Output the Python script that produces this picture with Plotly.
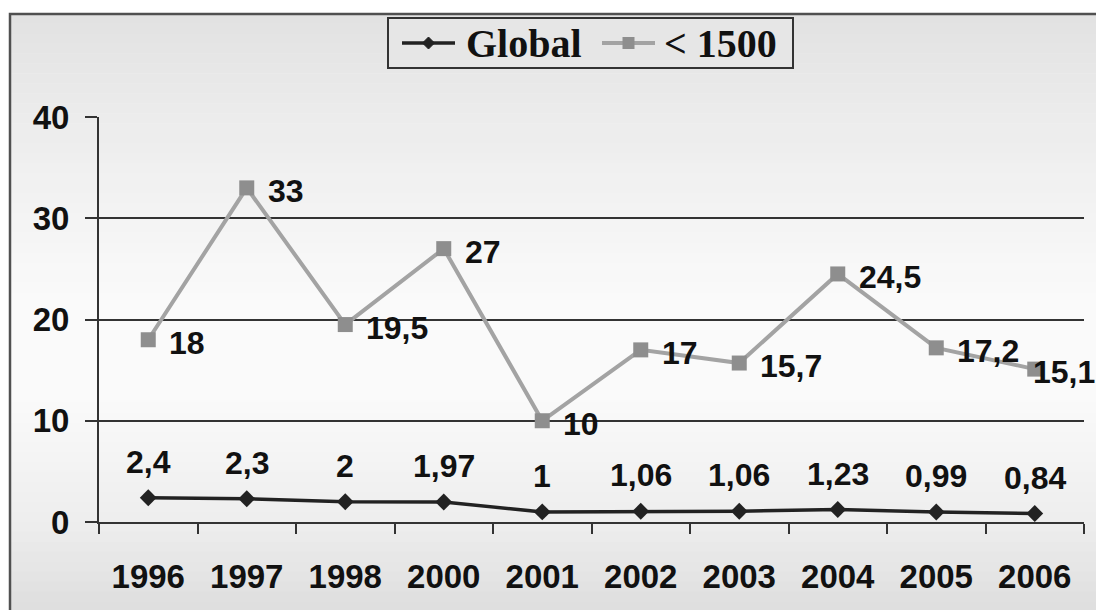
import plotly.graph_objects as go

# Data
years = ["1996", "1997", "1998", "2000", "2001", "2002", "2003", "2004", "2005", "2006"]
global_vals = [2.4, 2.3, 2.0, 1.97, 1.0, 1.06, 1.06, 1.23, 0.99, 0.84]
global_labels = ["2,4", "2,3", "2", "1,97", "1", "1,06", "1,06", "1,23", "0,99", "0,84"]
under1500_vals = [18, 33, 19.5, 27, 10, 17, 15.7, 24.5, 17.2, 15.1]
under1500_labels = ["18", "33", "19,5", "27", "10", "17", "15,7", "24,5", "17,2", "15,1"]
series_names = ["Global", "< 1500"]
y_ticks = [0, 10, 20, 30, 40]

W, H = 1096, 610
ML, MR, MT, MB = 99, 12, 117, 88
PW, PH = W - ML - MR, H - MT - MB

DARK = "#222222"
GRAY_LINE = "#a3a3a3"
GRAY_MARK = "#8e8e8e"


def px_to_paper(x, y):
    return (x - ML) / PW, (H - MB - y) / PH


fig = go.Figure()

fig.add_trace(go.Scatter(
    x=years, y=global_vals, name=series_names[0], mode="lines+markers",
    line=dict(color=DARK, width=3.5),
    marker=dict(symbol="diamond", size=13, color=DARK),
    cliponaxis=False, showlegend=False,
))
fig.add_trace(go.Scatter(
    x=years, y=under1500_vals, name=series_names[1], mode="lines+markers",
    line=dict(color=GRAY_LINE, width=4),
    marker=dict(symbol="square", size=15, color=GRAY_MARK),
    cliponaxis=False, showlegend=False,
))

label_font = dict(family="Liberation Sans, Arial, sans-serif", size=32, color="#111111", weight="bold")

# Value labels (x given as category index so the year names stay categorical)
annotations = []
for i, (v, t) in enumerate(zip(global_vals, global_labels)):
    annotations.append(dict(x=i, y=v, xref="x", yref="y", text=t, showarrow=False,
                            xanchor="center", yanchor="middle", yshift=36, font=label_font))
for i, (v, t) in enumerate(zip(under1500_vals, under1500_labels)):
    last = i == len(years) - 1
    annotations.append(dict(x=i, y=v, xref="x", yref="y", text=t, showarrow=False,
                            xanchor="left", yanchor="middle", xshift=-4 if last else 19,
                            yshift=-3, font=label_font))

# Background: soft vertical gray gradient inside the frame
shapes = []
stops = [(14, 226), (120, 236), (300, 250), (400, 250), (520, 238), (610, 222)]
n_bands = 60
top, bottom = 14, 612
for k in range(n_bands):
    y0 = top + (bottom - top) * k / n_bands
    y1 = top + (bottom - top) * (k + 1) / n_bands
    ym = (y0 + y1) / 2
    c = stops[-1][1]
    for (a, ca), (b, cb) in zip(stops[:-1], stops[1:]):
        if a <= ym <= b:
            c = int(round(ca + (cb - ca) * (ym - a) / (b - a)))
            break
    x0p, y0p = px_to_paper(10, y1)
    x1p, y1p = px_to_paper(1100, y0 - 0.5)
    shapes.append(dict(type="rect", xref="paper", yref="paper", x0=x0p, x1=x1p,
                       y0=y0p, y1=y1p, fillcolor=f"rgb({c},{c},{c})",
                       line=dict(width=0), layer="below"))

# Outer frame
fx0, fy0 = px_to_paper(10, 620)
fx1, fy1 = px_to_paper(1110, 14)
shapes.append(dict(type="rect", xref="paper", yref="paper", x0=fx0, x1=fx1, y0=fy0, y1=fy1,
                   line=dict(color="#505050", width=2.5), fillcolor="rgba(0,0,0,0)",
                   layer="below"))

# Legend box drawn at the top centre
bx0, by0 = px_to_paper(388, 68)
bx1, by1 = px_to_paper(793, 18)
shapes.append(dict(type="rect", xref="paper", yref="paper", x0=bx0, x1=bx1, y0=by0, y1=by1,
                   line=dict(color="#333333", width=2), fillcolor="#e6e6e6", layer="above"))

legend_font = dict(family="Liberation Serif, Times New Roman, serif", size=40,
                   color="#111111", weight="bold")
legend_items = [
    (402, 455, DARK, 3.5, "diamond", 6, 464),
    (602, 655, GRAY_LINE, 4, "square", 6, 662),
]
ly = 43
for (sx0, sx1, col, lw, sym, half, tx), name in zip(legend_items, series_names):
    p0 = px_to_paper(sx0, ly)
    p1 = px_to_paper(sx1, ly)
    shapes.append(dict(type="line", xref="paper", yref="paper", x0=p0[0], x1=p1[0],
                       y0=p0[1], y1=p1[1], line=dict(color=col, width=lw), layer="above"))
    cx = (sx0 + sx1) / 2
    if sym == "diamond":
        pts = [px_to_paper(cx, ly - half), px_to_paper(cx + half, ly),
               px_to_paper(cx, ly + half), px_to_paper(cx - half, ly)]
        path = "M " + " L ".join(f"{a},{b}" for a, b in pts) + " Z"
        shapes.append(dict(type="path", xref="paper", yref="paper", path=path,
                           fillcolor=col, line=dict(color=col, width=1), layer="above"))
    else:
        q0 = px_to_paper(cx - half, ly + half)
        q1 = px_to_paper(cx + half, ly - half)
        shapes.append(dict(type="rect", xref="paper", yref="paper", x0=q0[0], x1=q1[0],
                           y0=q0[1], y1=q1[1], fillcolor=GRAY_MARK,
                           line=dict(width=0), layer="above"))
    tpx, tpy = px_to_paper(tx, ly)
    annotations.append(dict(x=tpx, y=tpy, xref="paper", yref="paper", text=name,
                            showarrow=False, xanchor="left", yanchor="middle",
                            font=legend_font))

tick_font = dict(family="Liberation Sans, Arial, sans-serif", size=33, color="#111111", weight="bold")

fig.update_layout(
    template="none",
    width=W, height=H,
    margin=dict(l=ML, r=MR, t=MT, b=MB, autoexpand=False),
    paper_bgcolor="white",
    plot_bgcolor="rgba(0,0,0,0)",
    showlegend=False,
    xaxis=dict(
        type="category", categoryorder="array", categoryarray=years,
        range=[-0.5, len(years) - 0.5], autorange=False, automargin=False,
        showgrid=False, zeroline=False,
        showline=True, linecolor="#333333", linewidth=2,
        ticks="outside", tickson="boundaries", ticklen=10, tickwidth=2, tickcolor="#333333",
        tickfont=tick_font, tickangle=0, ticklabelstandoff=24,
    ),
    yaxis=dict(
        range=[0, 40], autorange=False, automargin=False,
        tickvals=y_ticks, ticktext=[str(v) for v in y_ticks],
        showgrid=True, gridcolor="#333333", gridwidth=1.5,
        zeroline=False,
        showline=True, linecolor="#333333", linewidth=2,
        ticks="outside", ticklen=12, tickwidth=1.5, tickcolor="#333333",
        tickfont=tick_font, ticklabelstandoff=9,
    ),
    shapes=shapes,
    annotations=annotations,
)

fig.write_html("out.html")
